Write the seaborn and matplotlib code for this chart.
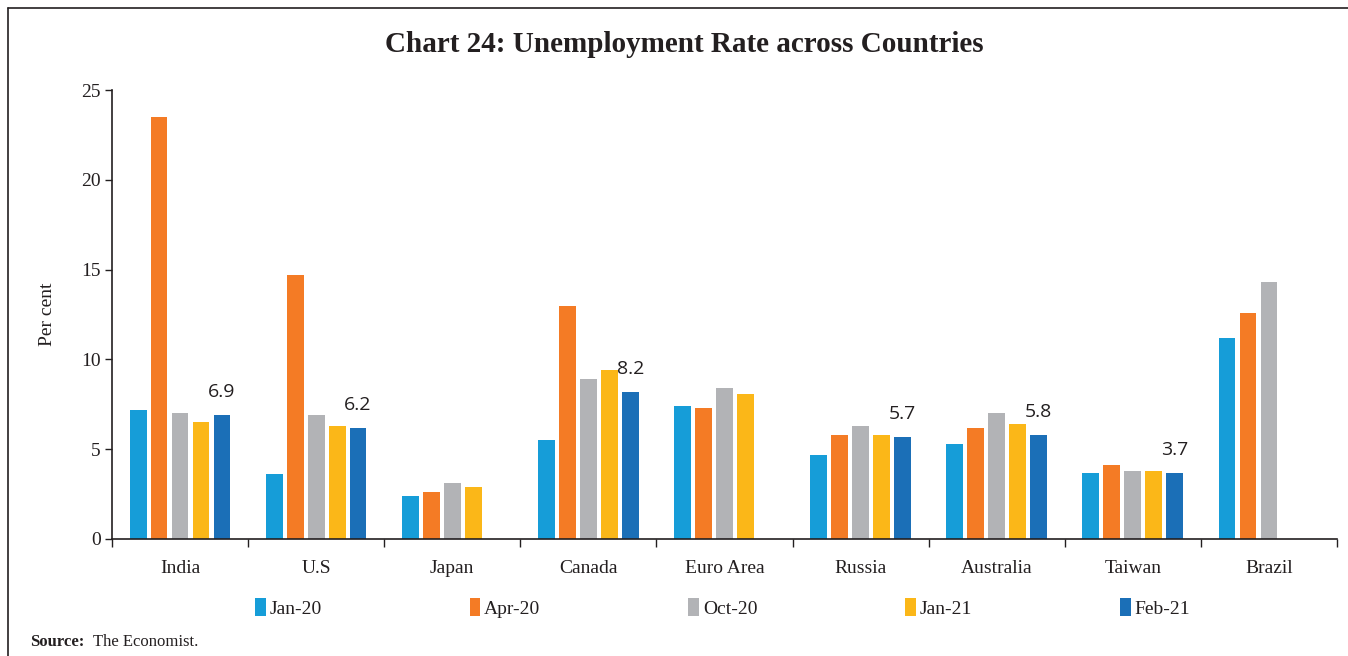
import numpy as np
import pandas as pd
import matplotlib
matplotlib.use("Agg")
import matplotlib.pyplot as plt
from matplotlib.patches import Patch
import seaborn as sns

countries = ["India", "U.S", "Japan", "Canada", "Euro Area", "Russia", "Australia", "Taiwan", "Brazil"]
periods = ["Jan-20", "Apr-20", "Oct-20", "Jan-21", "Feb-21"]

jan20 = [7.2, 3.6, 2.4, 5.5, 7.4, 4.7, 5.3, 3.7, 11.2]
apr20 = [23.5, 14.7, 2.6, 13.0, 7.3, 5.8, 6.2, 4.1, 12.6]
oct20 = [7.0, 6.9, 3.1, 8.9, 8.4, 6.3, 7.0, 3.8, 14.3]
jan21 = [6.5, 6.3, 2.9, 9.4, 8.1, 5.8, 6.4, 3.8, np.nan]
feb21 = [6.9, 6.2, np.nan, 8.2, np.nan, 5.7, 5.8, 3.7, np.nan]

colors = ["#169dd8", "#f47b25", "#b2b3b6", "#fbb718", "#1b6fb7"]

series = [jan20, apr20, oct20, jan21, feb21]
df = pd.DataFrame({
    "country": np.repeat([countries], len(periods), axis=0).ravel(),
    "period": np.repeat(periods, len(countries)),
    "value": np.concatenate(series),
}).dropna()

serif = ["Liberation Serif", "DejaVu Serif"]
sns.set_theme(style="white")
plt.rcParams["font.family"] = serif
plt.rcParams["text.color"] = "#231f20"
plt.rcParams["axes.labelcolor"] = "#231f20"
plt.rcParams["xtick.color"] = "#231f20"
plt.rcParams["ytick.color"] = "#231f20"

fig = plt.figure(figsize=(13.48, 6.56), dpi=100)
ax = fig.add_axes([0.0831, 0.1784, 0.9087, 0.6844])

sns.barplot(data=df, x="country", y="value", hue="period",
            order=countries, hue_order=periods, palette=colors,
            width=0.77, gap=0.2, saturation=1, errorbar=None,
            linewidth=0, ax=ax, legend=False)

# value labels on the latest month
feb_bars = ax.containers[-1]
ax.bar_label(feb_bars, fmt="%.1f", padding=10, fontsize=14,
             family=["Open Sans", "DejaVu Sans"], color="#231f20")

ax.set_ylim(0, 25)
ax.set_xlim(-0.5, len(countries) - 0.5)
ax.set_yticks([0, 5, 10, 15, 20, 25])
ax.tick_params(axis="y", labelsize=14, length=5, width=1, direction="out", left=True, pad=3)
ax.tick_params(axis="x", which="major", labelsize=14, length=0, pad=15)
ax.set_xticks(np.arange(-0.5, len(countries), 1.0), minor=True)
ax.tick_params(axis="x", which="minor", length=6, width=1, direction="out", bottom=True)
ax.set_xlabel("")
ax.set_ylabel("Per cent", fontsize=14, labelpad=18)

for side in ["top", "right"]:
    ax.spines[side].set_visible(False)
for side in ["left", "bottom"]:
    ax.spines[side].set_color("#231f20")
    ax.spines[side].set_linewidth(1.2)

fig.suptitle("Chart 24: Unemployment Rate across Countries", x=0.508, y=0.953,
             fontsize=21, fontweight="bold", family=serif)

handles = [Patch(facecolor=c, edgecolor="none") for c in colors]
fig.legend(handles, periods, loc="center", bbox_to_anchor=(0.536, 0.073), ncol=5,
           frameon=False, fontsize=14, handlelength=0.55, handleheight=1.0,
           handletextpad=0.2, columnspacing=7.6)

fig.text(0.022, 0.015, "Source:", fontsize=12, fontweight="bold", ha="left", va="baseline")
fig.text(0.069, 0.015, "The Economist.", fontsize=12, ha="left", va="baseline")

# frame on the left and top of the figure
fig.add_artist(plt.Line2D([0.006, 0.006], [0.0, 0.988], transform=fig.transFigure,
                          color="#231f20", linewidth=1.2))
fig.add_artist(plt.Line2D([0.006, 1.0], [0.988, 0.988], transform=fig.transFigure,
                          color="#231f20", linewidth=1.2))

fig.savefig("out.png", dpi=100)
